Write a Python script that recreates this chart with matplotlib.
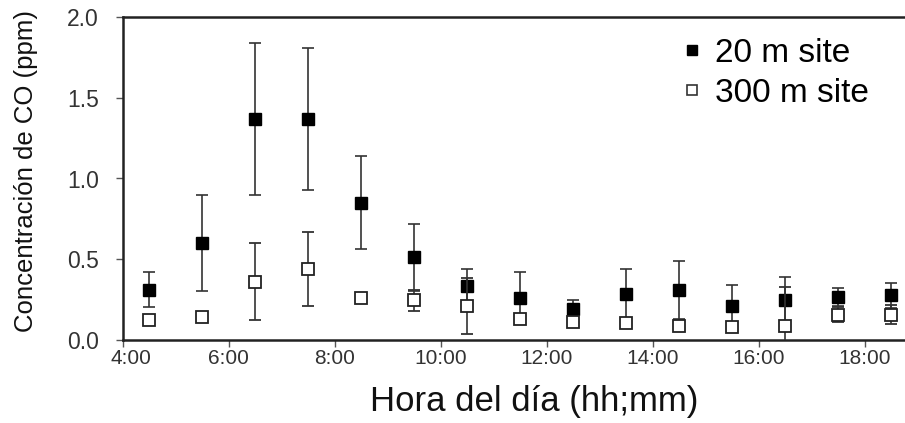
import matplotlib
matplotlib.use("Agg")
import matplotlib.pyplot as plt
from matplotlib.lines import Line2D
from matplotlib.transforms import ScaledTranslation

plt.rcParams['font.family'] = ['Liberation Sans', 'DejaVu Sans']

# Data (hour of day, mean CO concentration and error bars)
hours = [4.5, 5.5, 6.5, 7.5, 8.5, 9.5, 10.5, 11.5, 12.5, 13.5, 14.5, 15.5, 16.5, 17.5, 18.5]
co_20m = [0.31, 0.60, 1.37, 1.37, 0.85, 0.51, 0.33, 0.26, 0.19, 0.28, 0.31, 0.21, 0.245, 0.265, 0.275]
err_20m = [0.11, 0.30, 0.47, 0.44, 0.29, 0.21, 0.105, 0.16, 0.055, 0.16, 0.18, 0.13, 0.145, 0.056, 0.078]
co_300m = [0.12, 0.14, 0.36, 0.44, 0.255, 0.245, 0.21, 0.13, 0.11, 0.105, 0.085, 0.08, 0.085, 0.155, 0.155]
err_300m = [0.02, 0.02, 0.24, 0.23, 0.03, 0.065, 0.175, 0.03, 0.02, 0.02, 0.02, 0.02, 0.24, 0.045, 0.06]
xtick_vals = [4, 6, 8, 10, 12, 14, 16, 18]
xtick_labels = ['4:00', '6:00', '8:00', '10:00', '12:00', '14:00', '16:00', '18:00']
ytick_vals = [0.0, 0.5, 1.0, 1.5, 2.0]
series_labels = ['20 m site', '300 m site']

W, H = 905, 423
fig = plt.figure(figsize=(W / 100, H / 100), dpi=100)
left_px, right_px, top_px, bottom_px = 122.7, 905, 17.5, 339.5
ax = fig.add_axes([left_px / W, 1 - bottom_px / H, (right_px - left_px) / W, (bottom_px - top_px) / H])

ax.errorbar(hours, co_20m, yerr=err_20m, fmt='s', ms=9, mfc='black', mec='black',
            ecolor='#333333', elinewidth=1.2, capsize=4, capthick=1.2, zorder=3, label=series_labels[0])
ax.errorbar(hours, co_300m, yerr=err_300m, fmt='s', ms=9, mfc='white', mec='#222222', mew=1.3,
            ecolor='#333333', elinewidth=1.2, capsize=4, capthick=1.2, zorder=4, label=series_labels[1])

ax.set_xlim(4, 4 + (right_px - left_px) / 53.0)
ax.set_ylim(0, 2.0)
ax.set_xticks(xtick_vals)
ax.set_xticklabels(xtick_labels, fontsize=15, color='#333333')
ax.set_yticks(ytick_vals)
ax.set_yticklabels([f'{v:.1f}' for v in ytick_vals], fontsize=16.5, color='#333333')
ax.tick_params(axis='both', direction='out', length=5, width=1, color='#555555')
ax.tick_params(axis='x', pad=2)
ax.tick_params(axis='y', pad=12)

# first x tick label sits slightly right of its tick in the original
first = ax.get_xticklabels()[0]
first.set_transform(first.get_transform() + ScaledTranslation(8 / 100, 0, fig.dpi_scale_trans))

for s in ['left', 'top', 'bottom']:
    ax.spines[s].set_linewidth(1.8)
    ax.spines[s].set_color('#222222')
ax.spines['right'].set_visible(False)

ax.set_ylabel('Concentración de CO (ppm)', fontsize=18.5, color='#111111')
ax.yaxis.set_label_coords(-0.108, 0.522)
ax.set_xlabel('Hora del día (hh;mm)', fontsize=25, color='#111111')
ax.xaxis.set_label_coords(0.526, -0.14)

h1 = Line2D([], [], ls='none', marker='s', ms=7, mfc='black', mec='black')
h2 = Line2D([], [], ls='none', marker='s', ms=7, mfc='white', mec='#333333', mew=1.2)
ax.legend([h1, h2], series_labels, loc='upper left', bbox_to_anchor=((662 - left_px) / (right_px - left_px), 1.0),
          frameon=False, fontsize=24, handlelength=0.6, handletextpad=0.4, labelspacing=0.28,
          borderaxespad=0.2)

fig.savefig('out.png', dpi=100, facecolor='white')
